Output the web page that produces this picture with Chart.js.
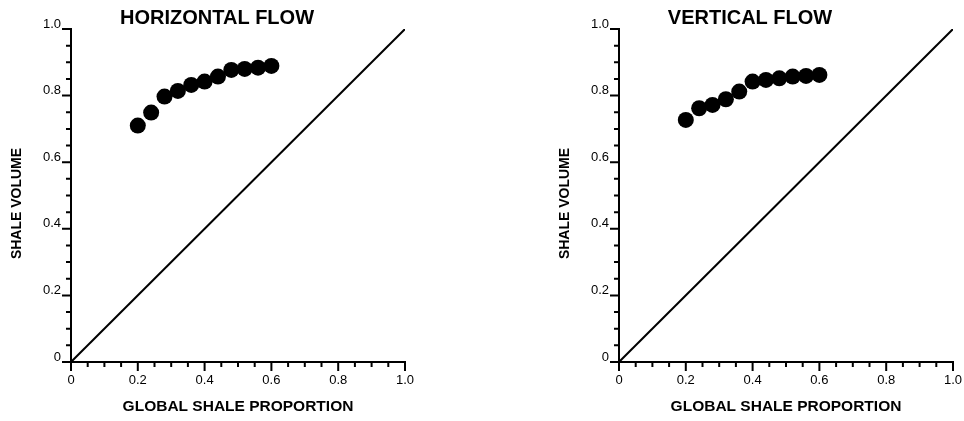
<!DOCTYPE html>
<html>
<head>
<meta charset="utf-8">
<script src="https://cdn.jsdelivr.net/npm/chart.js@4/dist/chart.umd.min.js"></script>
<style>
    body { margin: 0; background: #fff; width: 964px; height: 421px; position: relative; overflow: hidden; }
    canvas { position: absolute; top: 0; }
    #horizontalChart { left: 0; }
    #verticalChart { left: 540px; }
</style>
</head>
<body>
<canvas id="horizontalChart" width="434" height="421"></canvas>
<canvas id="verticalChart" width="424" height="421"></canvas>
<script>
const proportion = [0.20, 0.24, 0.28, 0.32, 0.36, 0.40, 0.44, 0.48, 0.52, 0.56, 0.60];
const horizontalVolume = [0.710, 0.749, 0.797, 0.814, 0.832, 0.842, 0.857, 0.877, 0.880, 0.884, 0.889];
const verticalVolume = [0.727, 0.762, 0.772, 0.789, 0.812, 0.842, 0.847, 0.852, 0.857, 0.859, 0.862];
const diagonalX = [0, 1];
const diagonalY = [0, 1];
const tickLabels = ['0', '0.2', '0.4', '0.6', '0.8', '1.0'];

const FONT = '"Liberation Sans", Arial, Helvetica, sans-serif';
Chart.defaults.color = '#000';
Chart.defaults.font.family = FONT;

function toPoints(xs, ys) {
    let points = [];
    for (let i in xs) {
        points.push({x: xs[i], y: ys[i]});
    }
    return points;
}

// long ticks every 0.2, short ones every 0.05, both pointing out of the plot
const axisTicks = {
    id: 'axisTicks',
    afterDraw(chart) {
        const ctx = chart.ctx;
        const x = chart.scales.x;
        const y = chart.scales.y;
        ctx.save();
        ctx.strokeStyle = '#000';
        ctx.lineWidth = 2;
        ctx.beginPath();
        for (let i = 0; i <= 20; i++) {
            let len = (i % 4 === 0) ? 9 : 5;
            let px = x.getPixelForValue(i * 0.05);
            ctx.moveTo(px, x.top);
            ctx.lineTo(px, x.top + len);
            let py = y.getPixelForValue(i * 0.05);
            ctx.moveTo(y.right, py);
            ctx.lineTo(y.right - len, py);
        }
        ctx.stroke();
        ctx.restore();
    }
};

// panel heading and the rotated y axis title
const panelText = {
    id: 'panelText',
    afterDraw(chart, args, opts) {
        const ctx = chart.ctx;
        const area = chart.chartArea;
        ctx.save();
        ctx.fillStyle = '#000';
        ctx.textAlign = 'center';
        ctx.textBaseline = 'middle';
        ctx.font = 'bold 20px ' + FONT;
        ctx.fillText(opts.title, opts.titleX, 18);
        ctx.translate(opts.yTitleX, (area.top + area.bottom) / 2 + 8);
        ctx.rotate(-Math.PI / 2);
        ctx.font = 'bold 14px ' + FONT;
        ctx.fillText(opts.yTitle, 0, 0);
        ctx.restore();
    }
};

function makeChart(id, title, volume, yWidth, rightPad, titleX, yTitleX) {
    const ctx = document.getElementById(id);
    return new Chart(ctx, {
        data: {
            datasets: [{
                type: 'line',
                data: toPoints(diagonalX, diagonalY),
                borderColor: '#000',
                borderWidth: 2,
                pointRadius: 0,
                fill: false
            }, {
                type: 'scatter',
                data: toPoints(proportion, volume),
                backgroundColor: '#000',
                borderWidth: 0,
                pointRadius: 8,
                pointHoverRadius: 8
            }]
        },
        plugins: [axisTicks, panelText],
        options: {
            responsive: false,
            animation: false,
            layout: {
                padding: {top: 29, left: 0, right: rightPad, bottom: 0}
            },
            scales: {
                x: {
                    type: 'linear',
                    min: 0,
                    max: 1,
                    grid: {display: false, drawTicks: false},
                    border: {display: true, color: '#000', width: 2},
                    ticks: {
                        stepSize: 0.2,
                        autoSkip: false,
                        maxRotation: 0,
                        padding: 11,
                        font: {size: 13},
                        callback: function(value, index) { return tickLabels[index]; }
                    },
                    title: {
                        display: true,
                        text: 'GLOBAL SHALE PROPORTION',
                        font: {size: 15.5, weight: 'bold'},
                        padding: {top: 0, bottom: 4.5}
                    },
                    afterFit: function(scale) {
                        scale.height = 59;
                        scale.paddingLeft = 0;
                        scale.paddingRight = 0;
                    }
                },
                y: {
                    type: 'linear',
                    min: 0,
                    max: 1,
                    grid: {display: false, drawTicks: false},
                    border: {display: true, color: '#000', width: 2},
                    ticks: {
                        stepSize: 0.2,
                        autoSkip: false,
                        padding: 10,
                        labelOffset: -5,
                        font: {size: 13},
                        callback: function(value, index) { return tickLabels[index]; }
                    },
                    afterFit: function(scale) { scale.width = yWidth; }
                }
            },
            plugins: {
                legend: {display: false},
                tooltip: {enabled: false},
                title: {display: false},
                panelText: {title: title, titleX: titleX, yTitle: 'SHALE VOLUME', yTitleX: yTitleX}
            }
        }
    });
}

makeChart('horizontalChart', 'HORIZONTAL FLOW', horizontalVolume, 71, 29, 217, 17);
makeChart('verticalChart', 'VERTICAL FLOW', verticalVolume, 79, 11, 210, 25);
</script>
</body>
</html>
